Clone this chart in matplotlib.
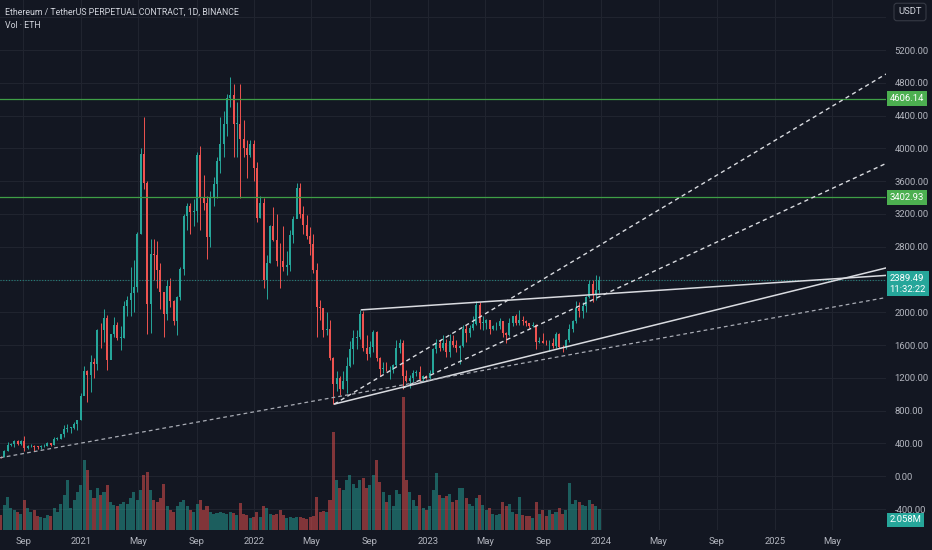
import numpy as np
import pandas as pd
import matplotlib
matplotlib.use('Agg')
import matplotlib.pyplot as plt
import matplotlib.dates as mdates
import matplotlib.transforms as mtransforms

plt.rcParams['font.family'] = ['Roboto', 'DejaVu Sans']

# Weekly ETH/USDT candles (week starting Monday)
firstWeek = "2020-07-13"
firstOpen = 242.
high = [
    250, 325, 415, 400, 440, 440, 440, 488, 380, 395, 375, 370, 375, 395, 420, 410,
    475, 475, 520, 622, 635, 600, 665, 690, 1015,
    1350, 1290, 1475, 1440, 1800, 1870, 2040, 1970, 1740, 1940, 1880, 1830, 2140,
    2200, 2550, 2640, 2980, 4000, 4380, 3600, 2900, 2900, 2870, 2600, 2250, 2400,
    2420, 2150, 2200, 2550, 3200, 3330, 3330, 3380, 3950, 4030, 3680, 3420, 3480,
    3650, 3900, 4380, 4450, 4660, 4870, 4780, 4560, 4780, 4350, 4100, 4100, 4100,
    3830, 3420, 3400, 2700, 3060, 3280, 3200, 2850, 3050, 2750, 3000, 3180, 3580,
    3580, 3300, 3190, 3040, 2960, 2600, 2150, 2040, 2000, 1900, 1450, 1280, 1220,
    1280, 1450, 1650, 1780, 1790, 2030, 2010, 1720, 1650, 1790, 1770, 1450, 1390,
    1390, 1340, 1370, 1660, 1680, 1660, 1290, 1230, 1300, 1300, 1350, 1230, 1230,
    1290, 1560, 1680, 1660, 1720, 1680, 1740, 1720, 1660, 1600, 1850, 1840, 1840,
    1950, 2140, 2120, 1960, 1920, 1900, 1850, 1880, 1930, 1890, 1760, 1930, 1960,
    1980, 2030, 1950, 1900, 1870, 1880, 1860, 1700, 1750, 1660, 1660, 1690, 1760,
    1750, 1600, 1680, 1860, 1900, 2140, 2120, 2130, 2200, 2400, 2400, 2450, 2445,
]
low = [
    228, 233, 305, 370, 360, 380, 375, 310, 330, 355, 308, 335, 335, 360, 367, 370,
    375, 440, 450, 480, 540, 530, 580, 560, 680,
    1000, 900, 1030, 1200, 1300, 1560, 1640, 1300, 1430, 1700, 1660, 1540, 1690,
    1950, 1950, 2000, 2250, 2950, 3500, 1730, 1750, 2400, 2300, 2040, 1700, 1900,
    2070, 1850, 1720, 2150, 2450, 3000, 2950, 3050, 3100, 3000, 3250, 2650, 2800,
    3300, 3400, 3700, 3900, 4150, 4500, 3900, 3900, 3400, 3900, 3640, 3890, 3600,
    3100, 3150, 2300, 2160, 2600, 2870, 2570, 2300, 2500, 2450, 2500, 2850, 3200,
    3150, 2950, 2900, 2700, 2480, 1700, 1900, 1700, 1720, 1420, 880, 1040, 990,
    1070, 1010, 1330, 1370, 1550, 1680, 1530, 1420, 1450, 1520, 1400, 1220, 1260,
    1280, 1190, 1260, 1340, 1500, 1070, 1150, 1075, 1150, 1220, 1150, 1160, 1190,
    1190, 1260, 1500, 1530, 1540, 1460, 1460, 1580, 1510, 1370, 1580, 1640, 1700,
    1780, 1850, 1800, 1790, 1800, 1740, 1790, 1780, 1800, 1700, 1620, 1715, 1830,
    1840, 1850, 1850, 1830, 1810, 1820, 1550, 1630, 1620, 1600, 1530, 1570, 1570,
    1560, 1520, 1550, 1640, 1760, 1870, 1940, 1930, 2000, 2180, 2120, 2150, 2240,
]
close = [
    235, 310, 385, 390, 430, 390, 430, 350, 365, 370, 355, 353, 366, 368, 406, 385,
    455, 460, 510, 575, 590, 590, 640, 685, 975,
    1280, 1230, 1390, 1370, 1790, 1780, 1935, 1420, 1730, 1850, 1690, 1690, 2080,
    2150, 2240, 2310, 2950, 3930, 3580, 2100, 2710, 2700, 2510, 2250, 1980, 2320,
    2140, 1890, 2190, 2530, 3170, 3300, 3220, 3230, 3920, 3410, 3330, 2920, 3390,
    3560, 3840, 4050, 4300, 4620, 4650, 4300, 4300, 4120, 4000, 3920, 4050, 3760,
    3150, 3330, 2400, 2600, 3050, 2880, 2630, 2620, 2550, 2580, 2940, 3140, 3520,
    3200, 3060, 2930, 2830, 2520, 2070, 2050, 1790, 1800, 1440, 1130, 1200, 1070,
    1160, 1350, 1550, 1690, 1700, 1980, 1570, 1490, 1580, 1760, 1440, 1310, 1310,
    1290, 1300, 1360, 1570, 1630, 1220, 1160, 1200, 1260, 1275, 1190, 1220, 1200,
    1265, 1550, 1630, 1570, 1630, 1515, 1650, 1600, 1565, 1590, 1800, 1750, 1810,
    1860, 2090, 1870, 1870, 1900, 1800, 1830, 1830, 1890, 1750, 1720, 1870, 1950,
    1870, 1910, 1890, 1870, 1830, 1850, 1640, 1650, 1630, 1620, 1630, 1590, 1730,
    1580, 1560, 1660, 1800, 1890, 2050, 2020, 2080, 2190, 2350, 2220, 2270, 2389.49,
]
# Volume (million ETH, typical daily level in each week)
volume = [
    1.5, 2.5, 3.3, 2.2, 2.0, 1.8, 1.6, 3.0, 2.2, 1.8, 2.0, 1.4, 1.3, 1.2, 1.5, 1.4,
    2.2, 1.8, 2.6, 3.5, 5.0, 2.2, 3.0, 3.8, 4.5,
    7.0, 6.0, 4.0, 3.2, 4.2, 3.5, 3.8, 4.5, 2.8, 2.5, 2.4, 2.6, 2.8,
    2.6, 3.2, 3.8, 3.0, 4.0, 5.5, 5.8, 4.0, 3.0, 2.8, 3.2, 4.6, 2.4,
    2.0, 1.8, 2.4, 2.8, 3.0, 2.4, 2.0, 1.8, 2.6, 3.0, 2.0, 2.4, 1.8,
    1.6, 1.7, 1.8, 1.7, 1.6, 1.8, 1.7, 1.5, 2.7, 1.6, 1.5, 1.2, 1.3,
    1.8, 1.3, 2.4, 2.2, 1.6, 1.5, 1.6, 2.0, 1.5, 1.2, 1.3, 1.2, 1.3,
    1.3, 1.2, 1.1, 1.3, 1.4, 3.3, 1.8, 1.9, 1.8, 3.0, 9.8, 5.0, 4.2,
    4.0, 5.0, 5.5, 4.6, 4.2, 5.0, 5.2, 4.2, 4.5, 5.5, 7.0, 4.8, 3.8,
    2.8, 3.5, 2.4, 4.0, 3.6, 13.3, 5.0, 3.8, 3.0, 2.4, 3.5, 2.2, 2.0,
    2.4, 4.0, 5.7, 3.5, 3.2, 3.4, 3.6, 2.8, 3.0, 4.2, 4.2, 3.2, 2.6,
    2.4, 3.2, 3.5, 2.5, 2.0, 2.2, 1.6, 1.5, 1.6, 2.8, 2.4, 2.6, 1.8,
    1.6, 3.3, 1.5, 1.4, 1.4, 1.2, 2.8, 1.6, 2.0, 1.4, 2.0, 1.6, 1.8,
    2.2, 1.6, 2.0, 4.7, 2.6, 3.0, 2.8, 2.5, 2.4, 3.0, 2.6, 2.4, 2.058,
]

# Drawn levels and trend lines (date, price anchors)
levels = [4606.14, 3402.93]
lastPrice = 2389.49
trendSolid = [
    (("2022-06-18", 880.), ("2025-08-23", 2541.)),
    (("2022-08-14", 2030.), ("2025-08-23", 2450.)),
]
trendDashed = [
    (("2022-06-18", 880.), ("2025-08-23", 4907.)),
    (("2022-11-09", 1075.), ("2025-08-23", 3816.)),
]
trendBase = (("2020-07-14", 225.), ("2025-08-23", 2180.))

xTickDates = ["2020-09-01", "2021-01-01", "2021-05-01", "2021-09-01", "2022-01-01",
              "2022-05-01", "2022-09-01", "2023-01-01", "2023-05-01", "2023-09-01",
              "2024-01-01", "2024-05-01", "2024-09-01", "2025-01-01", "2025-05-01"]
xTickLabels = ["Sep", "2021", "May", "Sep", "2022", "May", "Sep", "2023", "May",
               "Sep", "2024", "May", "Sep", "2025", "May"]
priceTicks = [-400, 0, 400, 800, 1200, 1600, 2000, 2800, 3200, 3600, 4000, 4400, 4800, 5200]
gridPrices = np.arange(-400, 5601, 400)

# Colours
bg = "#131722"
gridCol = "#20242f"
upCol = "#26a69a"
downCol = "#ef5350"
textCol = "#b2b5be"
lineCol = "#d9dbe0"
levelCol = "#3f9f46"

# Derived arrays
close = np.array(close, dtype=float)
high = np.array(high, dtype=float)
low = np.array(low, dtype=float)
volume = np.array(volume, dtype=float)
opn = np.concatenate([[firstOpen], close[:-1]])
dates = pd.date_range(firstWeek, periods=len(close), freq="7D") + pd.Timedelta(days=3)
x = mdates.date2num(dates)
isUp = close >= opn
colors = np.where(isUp, upCol, downCol)

ymin, ymax = -656., 5810.
xlim = mdates.date2num(pd.to_datetime(["2020-07-14", "2025-08-23"]))

fig = plt.figure(figsize=(9.32, 5.5), dpi=100, facecolor=bg)
ax = fig.add_axes([0, 20/550, 886/932, 530/550])
ax.set_facecolor(bg)
for s in ax.spines.values():
    s.set_visible(False)
ax.set_xlim(*xlim)
ax.set_ylim(ymin, ymax)

# Grid
for p in gridPrices:
    ax.axhline(p, color=gridCol, linewidth=0.8, zorder=0)
for d in mdates.date2num(pd.to_datetime(xTickDates)):
    ax.axvline(d, color=gridCol, linewidth=0.8, zorder=0)

# Volume pane (bottom), scaled so 53M fills the pane height
volTop = 53.
volScale = (ymax - ymin) / volTop
ax.bar(x, volume*volScale, bottom=ymin, width=6.4, color=colors, alpha=0.5,
       linewidth=0, zorder=1)

# Candles
ax.vlines(x, low, high, colors=colors, linewidth=0.7, zorder=3)
body = np.where(np.abs(close-opn) < 8, 8, close-opn)
ax.bar(x, body, bottom=opn, width=4.2, color=colors, linewidth=0, zorder=3)

# Horizontal levels
for lv in levels:
    ax.axhline(lv, color=levelCol, linewidth=0.9, zorder=4)
ax.axhline(lastPrice, color=upCol, linewidth=0.8, linestyle=(0, (1, 1.5)),
           alpha=0.7, zorder=4)

def drawTrend(seg, **kw):
    (d0, p0), (d1, p1) = seg
    xs = mdates.date2num(pd.to_datetime([d0, d1]))
    ax.plot(xs, [p0, p1], zorder=5, solid_capstyle="round", **kw)

for seg in trendSolid:
    drawTrend(seg, color=lineCol, linewidth=1.1)
for seg in trendDashed:
    drawTrend(seg, color=lineCol, linewidth=1.0, linestyle=(0, (3, 2.5)))
drawTrend(trendBase, color="#a9acb5", linewidth=0.9, linestyle=(0, (3, 2.5)))

# Axes ticks
ax.set_xticks(mdates.date2num(pd.to_datetime(xTickDates)))
ax.set_xticklabels(xTickLabels)
ax.yaxis.tick_right()
ax.set_yticks(priceTicks)
ax.set_yticklabels(["%.2f" % t for t in priceTicks])
ax.tick_params(axis="x", length=0, pad=5, labelcolor=textCol, labelsize=6.8)
ax.tick_params(axis="y", length=0, pad=6, labelcolor=textCol, labelsize=6.8)

# Price-scale labels
trans = mtransforms.blended_transform_factory(ax.transAxes, ax.transData)
for lv in levels:
    ax.text(1.004, lv, "%.2f" % lv, transform=trans, ha="left", va="center",
            color="white", fontsize=6.8, clip_on=False, zorder=10,
            bbox=dict(boxstyle="square,pad=0.3", fc="#4caf50", ec="none"))
ax.text(1.004, lastPrice + 80, "%.2f\n11:32:22" % lastPrice, transform=trans,
        ha="left", va="top", color="white", fontsize=6.8, linespacing=1.25,
        clip_on=False, zorder=10,
        bbox=dict(boxstyle="square,pad=0.3", fc=upCol, ec="none"))
ax.text(1.004, -530, "2.058M", transform=trans,
        ha="left", va="center", color="white", fontsize=6.8, clip_on=False,
        zorder=10, bbox=dict(boxstyle="square,pad=0.25", fc=upCol, ec="none"))

# Header texts
fig.text(5/932, 1-12/550, "Ethereum / TetherUS PERPETUAL CONTRACT, 1D, BINANCE",
         color="#d1d4dc", fontsize=6.3, va="center", ha="left")
fig.text(5/932, 1-25/550, "Vol · ETH", color="#d1d4dc", fontsize=6.3,
         va="center", ha="left")
fig.text(910/932, 1-12/550, "USDT", color="#d1d4dc", fontsize=6.8,
         va="center", ha="center",
         bbox=dict(boxstyle="round,pad=0.45,rounding_size=0.3", fc=bg, ec="#363a45", lw=0.8))

fig.savefig("out.png", dpi=100, facecolor=bg)
